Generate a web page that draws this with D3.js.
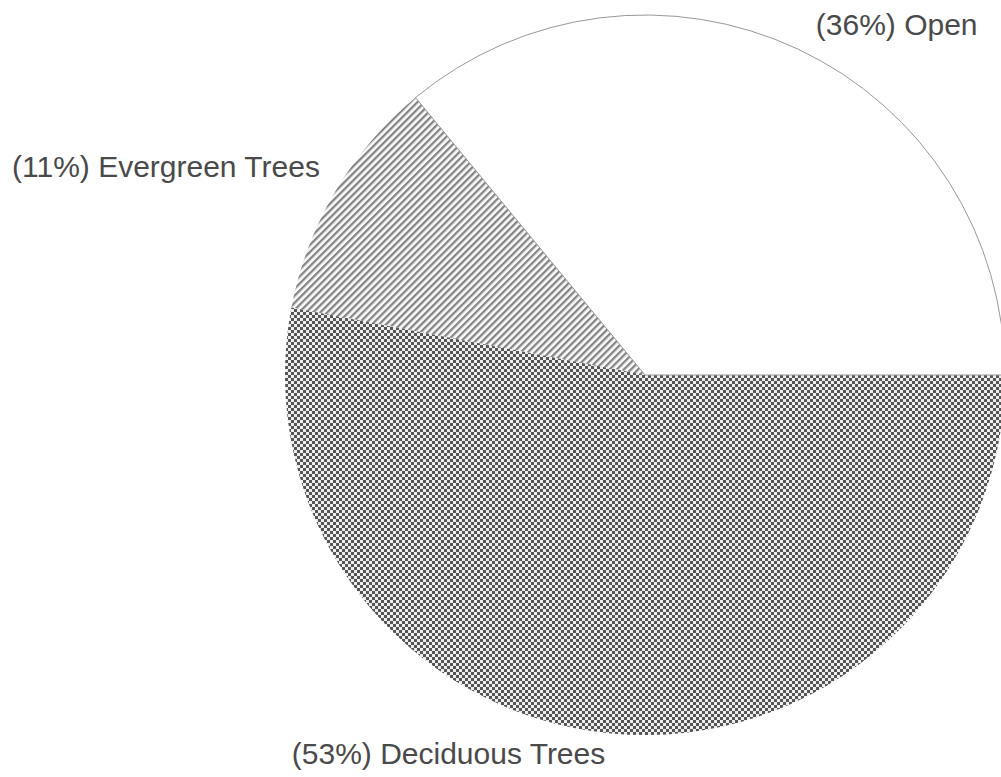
<!DOCTYPE html>
<html>
<head>
<meta charset="utf-8">
<script src="https://cdn.jsdelivr.net/npm/d3@7"></script>
<style>
  html, body { margin: 0; padding: 0; background: #fff; }
  svg { display: block; }
</style>
</head>
<body>
<svg id="chart" width="1001" height="777"></svg>
<script>
// Land cover shares (percent)
const categories = ["Open", "Evergreen Trees", "Deciduous Trees"];
const shares = [36, 11, 53];
const fills = ["plain", "stripes", "checker"];

const W = 1001, H = 777;
const cx = 645, cy = 375, radius = 360;

const svg = d3.select("#chart");
const defs = svg.append("defs");

// Diagonal hatching
const stripes = defs.append("pattern")
  .attr("id", "stripes")
  .attr("patternUnits", "userSpaceOnUse")
  .attr("width", 5).attr("height", 5)
  .attr("patternTransform", "rotate(45)");
stripes.append("rect").attr("width", 5).attr("height", 5).attr("fill", "#fafafa");
stripes.append("rect").attr("x", 0).attr("y", 0).attr("width", 2.3).attr("height", 5).attr("fill", "#858585");

// Checkerboard
const checker = defs.append("pattern")
  .attr("id", "checker")
  .attr("patternUnits", "userSpaceOnUse")
  .attr("width", 6).attr("height", 6);
checker.append("rect").attr("width", 6).attr("height", 6).attr("fill", "#555");
checker.append("rect").attr("x", 0).attr("y", 0).attr("width", 3).attr("height", 3).attr("fill", "#eeeeee");
checker.append("rect").attr("x", 3).attr("y", 3).attr("width", 3).attr("height", 3).attr("fill", "#eeeeee");

const data = categories.map((c, i) => ({ name: c, value: shares[i], fill: fills[i] }));

// Slices run counter-clockwise from the 3 o'clock position
const pie = d3.pie()
  .value(d => d.value)
  .sort(null)
  .startAngle(Math.PI / 2)
  .endAngle(Math.PI / 2 - 2 * Math.PI);

const arc = d3.arc().innerRadius(0).outerRadius(radius);
const labelArc = d3.arc().innerRadius(radius + 20).outerRadius(radius + 20);

const g = svg.append("g").attr("transform", `translate(${cx},${cy})`);
const arcs = pie(data);

g.selectAll("path.slice")
  .data(arcs)
  .join("path")
  .attr("class", "slice")
  .attr("d", arc)
  .attr("fill", d => d.data.fill === "plain" ? "#fff" : `url(#${d.data.fill})`)
  .attr("stroke", "none");

// Outline of the open slice
g.append("path")
  .attr("d", arc(arcs[0]))
  .attr("fill", "none")
  .attr("stroke", "#999")
  .attr("stroke-width", 1);

// Labels
g.selectAll("text.label")
  .data(arcs)
  .join("text")
  .attr("class", "label")
  .each(function (d) {
    const [x, y] = labelArc.centroid(d);
    const right = x > 0;
    d3.select(this)
      .attr("x", x + (right ? 9 : (y > 0 ? -4 : 2)))
      .attr("y", y + (y > 0 ? 11 : (right ? 4 : -5)))
      .attr("text-anchor", right ? "start" : "end");
  })
  .attr("font-family", "Liberation Sans, Arial, sans-serif")
  .attr("font-size", 30)
  .attr("fill", "#4a4a4a")
  .text(d => `(${d.data.value}%) ${d.data.name}`);
</script>
</body>
</html>
